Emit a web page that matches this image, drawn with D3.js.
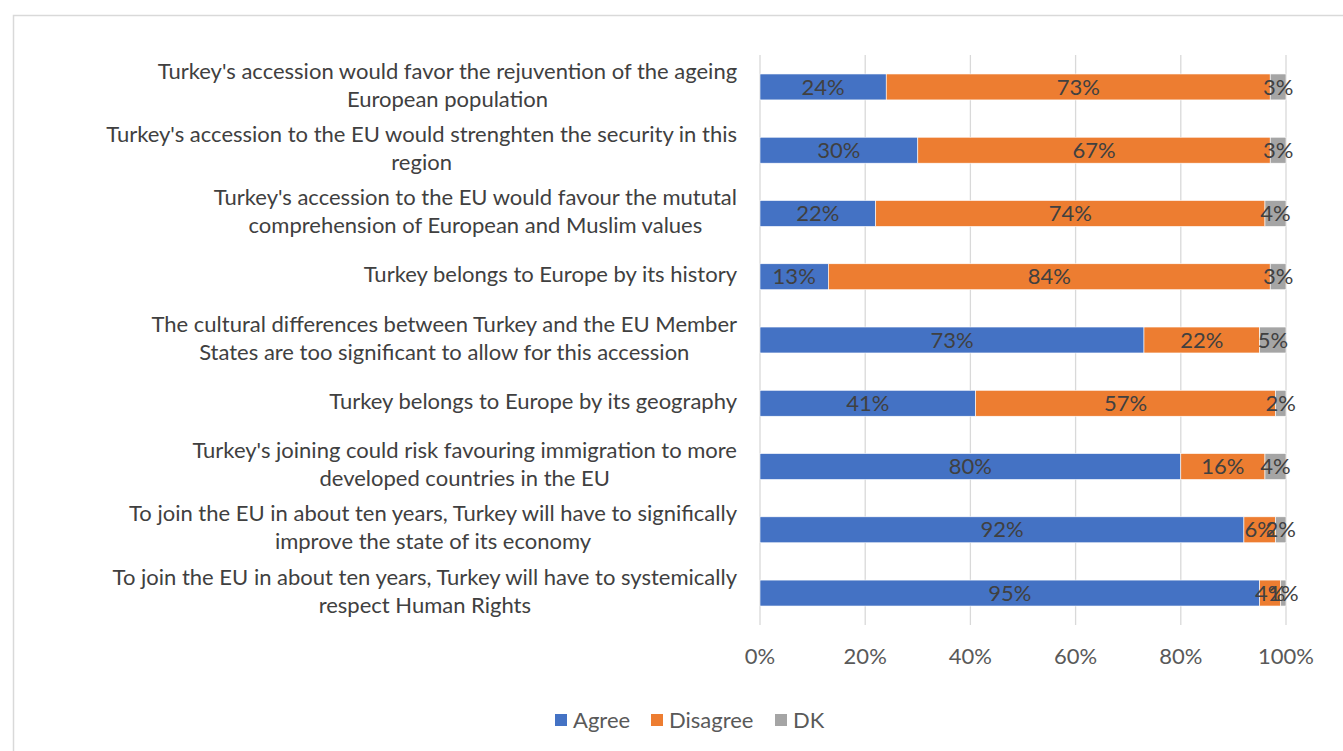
<!DOCTYPE html>
<html>
<head>
<meta charset="utf-8">
<script src="https://cdn.jsdelivr.net/npm/d3@7"></script>
<style>
  body { margin: 0; background: #fff; }
  svg { display: block; font-family: Lato, "Open Sans", sans-serif; }
</style>
</head>
<body>
<div class="plot"></div>
<script>
// statements, top to bottom, already split into the lines they wrap to
var categories = [
  ["Turkey's accession would favor the rejuvention of the ageing", "European population"],
  ["Turkey's accession to the EU would strenghten the security in this", "region"],
  ["Turkey's accession to the EU would favour the mututal", "comprehension of European and Muslim values"],
  ["Turkey belongs to Europe by its history"],
  ["The cultural differences between Turkey and the EU Member", "States are too significant to allow for this accession"],
  ["Turkey belongs to Europe by its geography"],
  ["Turkey's joining could risk favouring immigration to more", "developed countries in the EU"],
  ["To join the EU in about ten years, Turkey will have to significally", "improve the state of its economy"],
  ["To join the EU in about ten years, Turkey will have to systemically", "respect Human Rights"]
];
var agree    = [24, 30, 22, 13, 73, 41, 80, 92, 95];
var disagree = [73, 67, 74, 84, 22, 57, 16,  6,  4];
var dk       = [ 3,  3,  4,  3,  5,  2,  4,  2,  1];
var seriesNames = ["Agree", "Disagree", "DK"];
var ticks = [0, 20, 40, 60, 80, 100];

var colors = ["#4472C4", "#ED7D31", "#A5A5A5"];
var fs = 22;

var W = 1343, H = 751;
var m = {t: 55, l: 760, r: 57, b: 126};
var w = W - m.l - m.r, h = H - m.t - m.b;

var svg = d3.select('.plot').append('svg')
    .attr('width', W).attr('height', H);

// chart frame
svg.append('rect')
    .attr('x', 13.5).attr('y', 15.5)
    .attr('width', W + 20).attr('height', H + 20)
    .attr('fill', 'none').attr('stroke', '#d9d9d9').attr('stroke-width', 1.5);

var x = d3.scaleLinear().domain([0, 100]).range([0, w]);
var y = d3.scaleBand().domain(d3.range(categories.length)).range([0, h]).paddingInner(0.59).paddingOuter(0.3);

var g = svg.append('g').attr('transform', 'translate(' + m.l + ',' + m.t + ')');

// gridlines
g.selectAll('.grid').data(ticks).enter().append('line')
    .attr('x1', function(d){return x(d)}).attr('x2', function(d){return x(d)})
    .attr('y1', 0).attr('y2', h)
    .attr('stroke', '#d9d9d9').attr('stroke-width', 1.3);

// stack the three series
var rows = categories.map(function(c, i){
    return {i: i, vals: [agree[i], disagree[i], dk[i]]};
});

var segs = [];
rows.forEach(function(r){
    var x0 = 0;
    r.vals.forEach(function(v, k){
        segs.push({i: r.i, k: k, x0: x0, x1: x0 + v, v: v});
        x0 += v;
    });
});

g.selectAll('.seg').data(segs).enter().append('rect')
    .attr('x', function(d){return x(d.x0)})
    .attr('y', function(d){return y(d.i)})
    .attr('width', function(d){return x(d.x1) - x(d.x0)})
    .attr('height', y.bandwidth())
    .attr('fill', function(d){return colors[d.k]})
    .attr('stroke', '#fff').attr('stroke-width', 0.6);

g.selectAll('.lab').data(segs).enter().append('text')
    .attr('x', function(d){return x((d.x0 + d.x1) / 2)})
    .attr('y', function(d){return y(d.i) + y.bandwidth() / 2})
    .attr('dy', '0.35em')
    .attr('text-anchor', 'middle')
    .attr('font-size', fs)
    .attr('fill', '#404040')
    .text(function(d){return d.v + '%'});

// x axis labels
g.selectAll('.tick').data(ticks).enter().append('text')
    .attr('x', function(d){return x(d)})
    .attr('y', h + 31)
    .attr('dy', '0.35em')
    .attr('text-anchor', 'middle')
    .attr('font-size', fs)
    .attr('fill', '#595959')
    .text(function(d){return d + '%'});

// category labels: block sits right against the axis, lines centred inside it
g.selectAll('.cat').data(categories).enter().append('text')
    .attr('y', function(d, i){return y(i) + y.bandwidth() / 2 - 2 - (d.length - 1) * 14})
    .attr('text-anchor', 'middle')
    .attr('font-size', fs)
    .attr('fill', '#404040')
    .each(function(d){
        var t = d3.select(this);
        var spans = t.selectAll('tspan').data(d).enter().append('tspan')
            .attr('dy', function(s, j){return j == 0 ? '0.35em' : 28})
            .text(function(s){return s});
        var maxW = 0;
        spans.each(function(){ maxW = Math.max(maxW, this.getComputedTextLength()); });
        spans.attr('x', -23 - maxW / 2);
    });

// legend
var lg = svg.append('g').attr('transform', 'translate(555,720)');
var offs = [0, 96, 220];
var items = lg.selectAll('.leg').data(seriesNames).enter().append('g')
    .attr('transform', function(d, i){return 'translate(' + offs[i] + ',0)'});
items.append('rect').attr('x', 0).attr('y', -6).attr('width', 12).attr('height', 12)
    .attr('fill', function(d, i){return colors[i]});
items.append('text').attr('x', 18).attr('dy', '0.35em')
    .attr('font-size', fs).attr('fill', '#595959')
    .text(function(d){return d});
</script>
</body>
</html>
